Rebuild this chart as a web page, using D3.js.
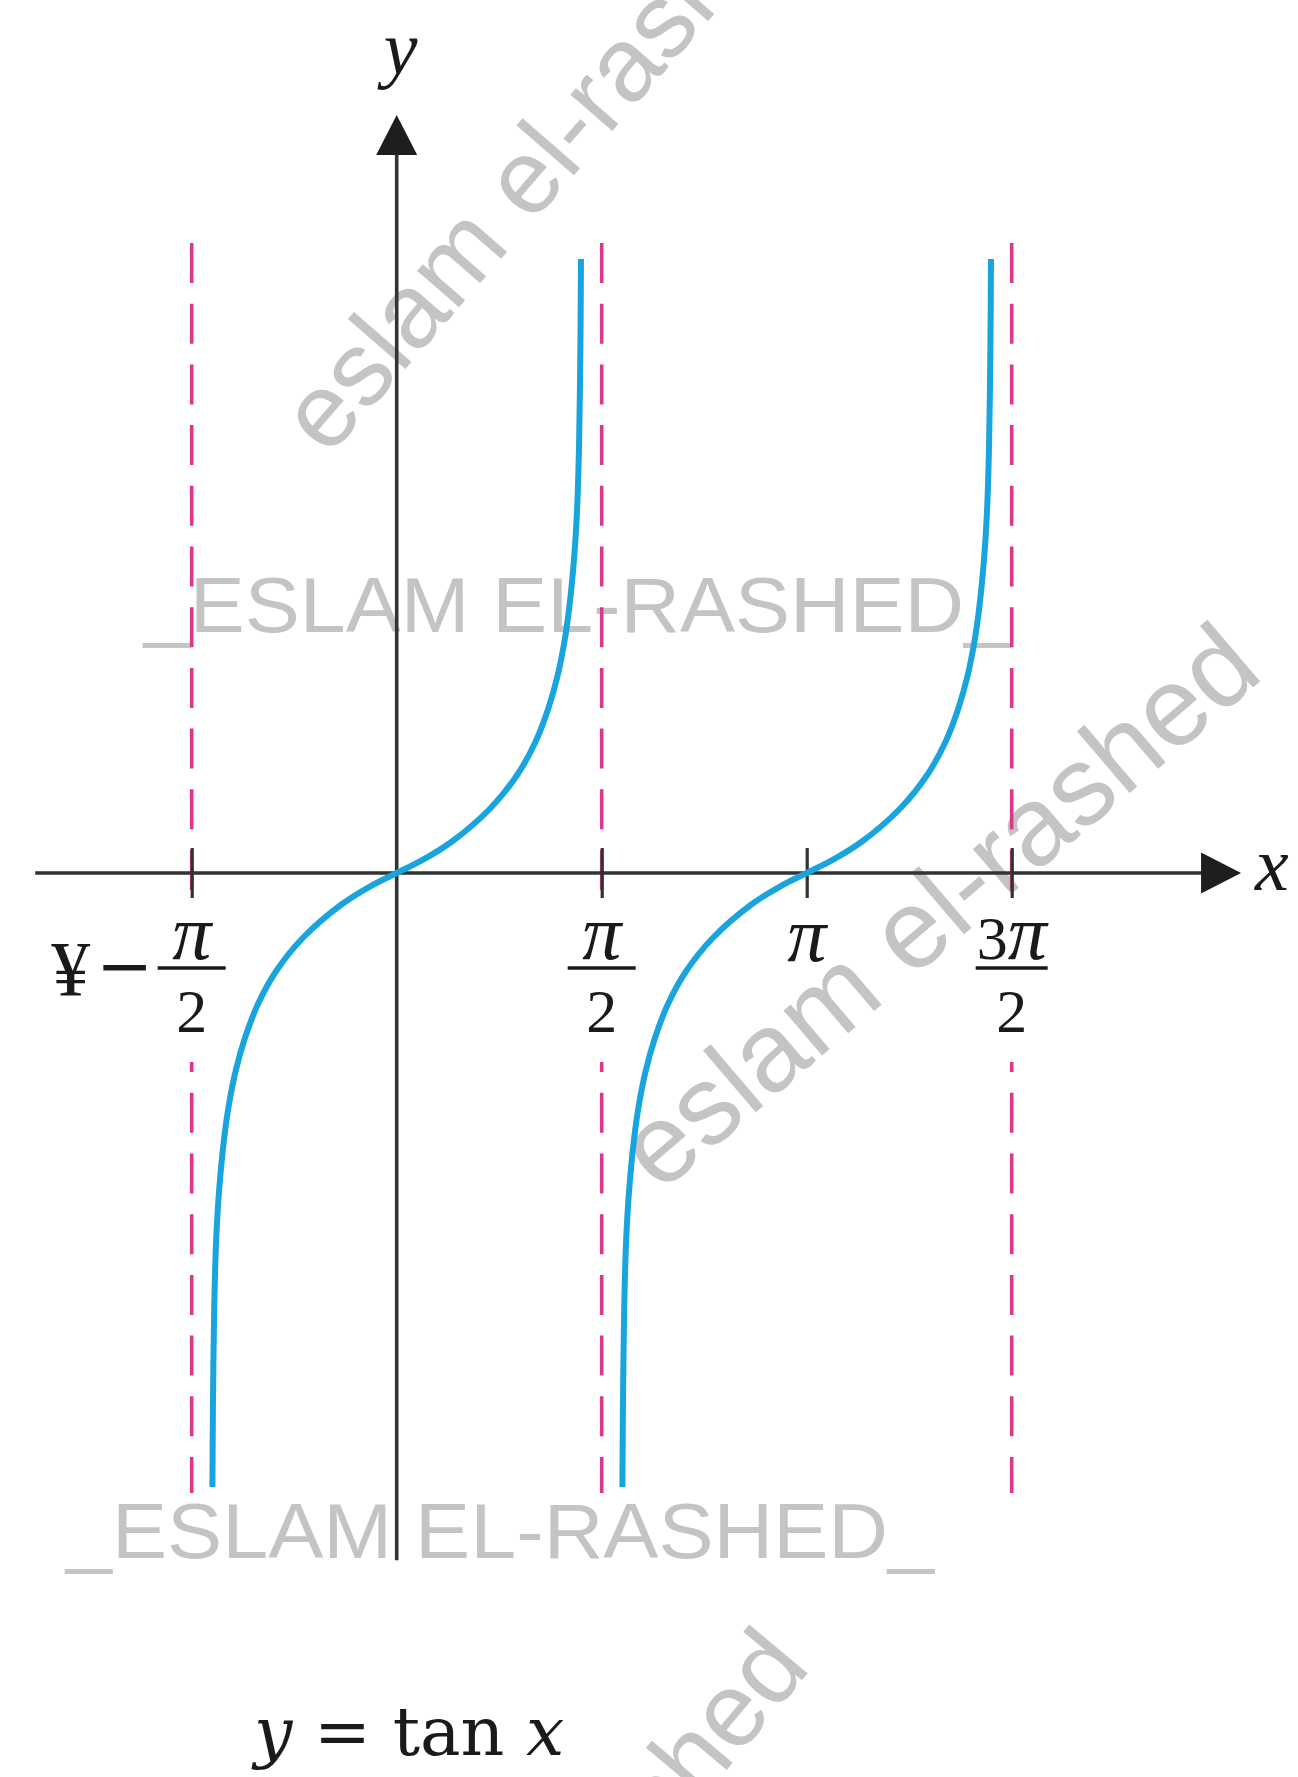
<!DOCTYPE html>
<html>
<head>
<meta charset="utf-8">
<script src="https://cdn.jsdelivr.net/npm/d3@7/dist/d3.min.js"></script>
<style>
	body { margin: 0; background: #fff; }
	svg { display: block; }
	.axis-line { stroke: #333; stroke-width: 3.6; fill: none; }
	.arrow { fill: #1e1e1e; }
	.asymptote { stroke: #dc368d; stroke-width: 3.6; stroke-dasharray: 40 20.7; fill: none; }
	.branch { stroke: #19a4dd; stroke-width: 6; fill: none; }
	.tick-label { fill: #1a1a1a; font-family: "Liberation Serif", "DejaVu Serif", serif; }
	.frac-bar { stroke: #1a1a1a; stroke-width: 3.4; }
	.axis-name { fill: #1a1a1a; font-family: "Liberation Serif", "DejaVu Serif", serif; font-style: italic; font-size: 76px; }
	.title { fill: #1a1a1a; font-family: "DejaVu Serif", serif; font-size: 68px; }
	.wm { fill: #c4c4c4; font-family: "Liberation Sans", Arial, sans-serif; }
</style>
</head>
<body>
<div id="chart"></div>
<script>
var width = 1298;
var height = 1777;

// one branch of y = tan x (x in radians, y in units)
var branchX = [-1.412, -1.408, -1.398, -1.383, -1.360, -1.322, -1.286, -1.234, -1.163, -1.063, -0.923, -0.720, -0.429, -0.199, 0,
	0.199, 0.429, 0.720, 0.923, 1.063, 1.163, 1.234, 1.286, 1.322, 1.360, 1.383, 1.398, 1.408, 1.412];
var branchY = [-7.675, -6.663, -5.413, -4.575, -3.95, -3.313, -2.90, -2.475, -2.063, -1.638, -1.225, -0.813, -0.40, -0.163, 0,
	0.163, 0.40, 0.813, 1.225, 1.638, 2.063, 2.475, 2.90, 3.313, 3.95, 4.575, 5.413, 6.663, 7.675];
var branchShifts = [0, Math.PI];

// dashed asymptotes
var asymptoteX = [-Math.PI / 2, Math.PI / 2, 3 * Math.PI / 2];
var asymptoteY = [-7.75, 7.875];

// x ticks
var tickValues = [-Math.PI / 2, Math.PI / 2, Math.PI, 3 * Math.PI / 2];
var tickNum = ["π", "π", "π", "3π"];
var tickDen = ["2", "2", "", "2"];
var tickPrefix = ["¥−", "", "", ""];

// axis extents (data units)
var xAxisExtent = [-2.77, 6.47];
var yAxisExtent = [-8.59, 9.475];

var axisY = 873;
var unitPx = 80;

var x = d3.scaleLinear()
	.domain([-Math.PI / 2, 3 * Math.PI / 2])
	.range([191.7, 1011.7]);

var y = d3.scaleLinear()
	.domain([-1, 1])
	.range([axisY + unitPx, axisY - unitPx]);

var svg = d3.select("#chart").append("svg")
	.attr("width", width)
	.attr("height", height);

svg.append("rect").attr("width", width).attr("height", height).attr("fill", "#fff");

// - watermarks -
var wm = svg.append("g").attr("class", "wm");

wm.append("text")
	.attr("x", 144).attr("y", 632)
	.attr("font-size", 78)
	.attr("textLength", 866).attr("lengthAdjust", "spacingAndGlyphs")
	.text("_ESLAM EL-RASHED_");

wm.append("text")
	.attr("x", 66).attr("y", 1558)
	.attr("font-size", 78)
	.attr("textLength", 868).attr("lengthAdjust", "spacingAndGlyphs")
	.text("_ESLAM EL-RASHED_");

wm.append("text")
	.attr("transform", "translate(328,458) rotate(-49)")
	.attr("font-size", 105)
	.text("eslam el-rashed");

wm.append("text")
	.attr("transform", "translate(660,1194) rotate(-40.5)")
	.attr("font-size", 112)
	.text("eslam el-rashed");

wm.append("text")
	.attr("transform", "translate(812,1668) rotate(-50)")
	.attr("text-anchor", "end")
	.attr("font-size", 105)
	.text("eslam el-rashed");

// - mask: dashed lines stop behind the tick labels -
var defs = svg.append("defs");
var mask = defs.append("mask").attr("id", "label-gap");
mask.append("rect").attr("width", width).attr("height", height).attr("fill", "#fff");
mask.selectAll(".gap")
	.data(asymptoteX)
	.enter().append("rect")
		.attr("x", function(d) { return x(d) - 45; })
		.attr("y", axisY + 26)
		.attr("width", 90)
		.attr("height", 163)
		.attr("fill", "#000");

svg.append("g")
	.attr("mask", "url(#label-gap)")
	.selectAll(".asymptote")
	.data(asymptoteX)
	.enter().append("line")
		.attr("class", "asymptote")
		.attr("x1", function(d) { return x(d); })
		.attr("x2", function(d) { return x(d); })
		.attr("y1", y(asymptoteY[1]))
		.attr("y2", y(asymptoteY[0]));

// - axes -
var arrowLen = 40, arrowHalf = 20.5;

svg.append("line")
	.attr("class", "axis-line")
	.attr("x1", x(xAxisExtent[0]))
	.attr("x2", x(xAxisExtent[1]) - arrowLen + 2)
	.attr("y1", y(0)).attr("y2", y(0));

svg.append("path")
	.attr("class", "arrow")
	.attr("d", d3.line()([
		[x(xAxisExtent[1]), y(0)],
		[x(xAxisExtent[1]) - arrowLen, y(0) - arrowHalf],
		[x(xAxisExtent[1]) - arrowLen, y(0) + arrowHalf]
	]) + "Z");

svg.append("line")
	.attr("class", "axis-line")
	.attr("x1", x(0)).attr("x2", x(0))
	.attr("y1", y(yAxisExtent[0]))
	.attr("y2", y(yAxisExtent[1]) + arrowLen - 2);

svg.append("path")
	.attr("class", "arrow")
	.attr("d", d3.line()([
		[x(0), y(yAxisExtent[1])],
		[x(0) - arrowHalf, y(yAxisExtent[1]) + arrowLen],
		[x(0) + arrowHalf, y(yAxisExtent[1]) + arrowLen]
	]) + "Z");

// ticks
var gx = svg.append("g")
	.attr("transform", "translate(0," + axisY + ")")
	.call(d3.axisBottom(x).tickValues(tickValues).tickSize(25).tickFormat(""));
gx.select(".domain").remove();
gx.selectAll(".tick line")
	.attr("y1", -25)
	.attr("stroke", "#333")
	.attr("stroke-width", 3.2);

// tick labels as fractions
var labels = svg.selectAll(".tick-label-g")
	.data(tickValues)
	.enter().append("g")
		.attr("class", "tick-label")
		.attr("transform", function(d) { return "translate(" + x(d) + "," + axisY + ")"; });

labels.each(function(d, i) {
	var g = d3.select(this);
	var num = g.append("text")
		.attr("text-anchor", "middle")
		.attr("y", tickDen[i] ? 86 : 88);
	tickNum[i].split("").forEach(function(c) {
		var isPi = c === "π";
		num.append("tspan")
			.attr("font-size", isPi ? 78 : 62)
			.attr("font-style", isPi ? "italic" : "normal")
			.text(c);
	});

	if (tickDen[i]) {
		var w = num.node().getBBox().width;
		var hw = Math.max(34, w / 2);
		g.append("line")
			.attr("class", "frac-bar")
			.attr("x1", -hw).attr("x2", hw)
			.attr("y1", 95).attr("y2", 95);
		g.append("text")
			.attr("text-anchor", "middle")
			.attr("y", 1032 - axisY)
			.attr("font-size", 62)
			.text(tickDen[i]);

		if (tickPrefix[i]) {
			var pre = tickPrefix[i];
			g.append("text")
				.attr("text-anchor", "middle")
				.attr("x", -hw - 33)
				.attr("y", 116)
				.attr("font-family", "DejaVu Serif, serif")
				.attr("font-size", 68)
				.text(pre.slice(1));
			g.append("text")
				.attr("text-anchor", "middle")
				.attr("x", -hw - 87)
				.attr("y", 122)
				.attr("font-size", 78)
				.text(pre.slice(0, 1));
		}
	}
});

// - tan branches -
var branchPts = branchX.map(function(v, i) { return [v, branchY[i]]; });

var line = d3.line()
	.curve(d3.curveCatmullRom.alpha(0.5));

svg.selectAll(".branch")
	.data(branchShifts)
	.enter().append("path")
		.attr("class", "branch")
		.attr("d", function(s) {
			return line(branchPts.map(function(p) { return [x(p[0] + s), y(p[1])]; }));
		});

// axis names
svg.append("text")
	.attr("class", "axis-name")
	.attr("text-anchor", "middle")
	.attr("x", x(0) + 4)
	.attr("y", 74)
	.text("y");

svg.append("text")
	.attr("class", "axis-name")
	.attr("x", x(xAxisExtent[1]) + 14)
	.attr("y", axisY + 17)
	.text("x");

// caption
var title = svg.append("text")
	.attr("class", "title")
	.attr("x", 254)
	.attr("y", 1755);
title.append("tspan").attr("font-style", "italic").text("y");
title.append("tspan").text(" = tan ");
title.append("tspan").attr("font-style", "italic").text("x");
</script>
</body>
</html>
